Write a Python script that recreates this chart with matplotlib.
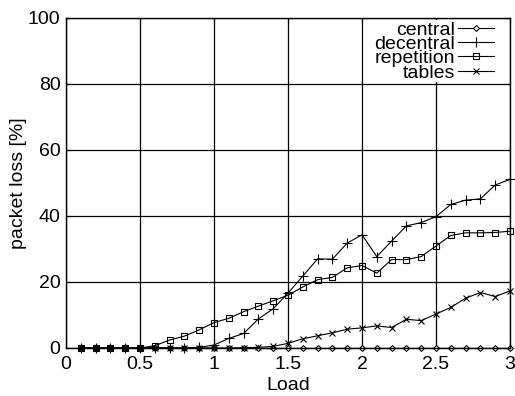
import matplotlib
matplotlib.use("Agg")
import matplotlib.pyplot as plt

plt.rcParams['font.family'] = ['Liberation Sans', 'DejaVu Sans']

# load values on the x axis
load = [0.1, 0.2, 0.3, 0.4, 0.5, 0.6, 0.7, 0.8, 0.9, 1.0,
        1.1, 1.2, 1.3, 1.4, 1.5, 1.6, 1.7, 1.8, 1.9, 2.0,
        2.1, 2.2, 2.3, 2.4, 2.5, 2.6, 2.7, 2.8, 2.9, 3.0]

# packet loss [%] per strategy
central = [0, 0, 0, 0, 0, 0, 0, 0, 0, 0,
           0, 0, 0, 0, 0, 0, 0, 0, 0, 0,
           0, 0, 0, 0, 0, 0, 0, 0, 0, 0]
decentral = [0, 0, 0, 0, 0, 0.1, 0, 0, 0.2, 0.9,
             2.9, 4.4, 8.8, 11.9, 16.6, 21.8, 27.0, 26.9, 31.8, 34.3,
             27.7, 32.4, 37.0, 38.0, 39.8, 43.5, 44.8, 45.2, 49.4, 51.1]
repetition = [0, 0, 0, 0, 0, 0.7, 2.4, 3.6, 5.5, 7.7,
              9.0, 11.0, 12.7, 14.3, 16.0, 18.5, 20.7, 21.4, 24.3, 25.0,
              22.7, 26.8, 26.8, 27.7, 30.9, 34.1, 34.9, 34.9, 35.0, 35.4]
tables = [0, 0, 0, 0, 0, 0, 0, 0, 0, 0,
          0, 0.1, 0.2, 0.5, 1.4, 2.8, 3.7, 4.6, 5.7, 6.1,
          6.7, 6.2, 8.7, 8.3, 10.3, 12.3, 15.1, 16.8, 15.6, 17.3]

x_ticks = [0, 0.5, 1, 1.5, 2, 2.5, 3]
x_labels = ['0', '0.5', '1', '1.5', '2', '2.5', '3']
y_ticks = [0, 20, 40, 60, 80, 100]

fig = plt.figure(figsize=(5.15, 3.96), dpi=100)
ax = fig.add_axes([66 / 515, 1 - 348 / 396, 444 / 515, 330 / 396])

lw = 0.8
ax.plot(load, central, color='black', lw=lw, marker='D', ms=3,
        mfc='white', mec='black', mew=0.8, label='central', clip_on=False)
ax.plot(load, decentral, color='black', lw=lw, marker='+', ms=7,
        mew=0.8, label='decentral', clip_on=False)
ax.plot(load, repetition, color='black', lw=lw, marker='s', ms=4.5,
        mfc='none', mec='black', mew=0.8, label='repetition', clip_on=False)
ax.plot(load, tables, color='black', lw=lw, marker='x', ms=5,
        mew=0.8, label='tables', clip_on=False)

ax.set_xlim(0, 3)
ax.set_ylim(0, 100)
ax.set_xticks(x_ticks)
ax.set_xticklabels(x_labels)
ax.set_yticks(y_ticks)
ax.grid(True, color='black', lw=0.9)
ax.set_axisbelow(True)
ax.tick_params(direction='in', labelsize=14, top=True, right=True)
ax.tick_params(axis='x', pad=6)
ax.tick_params(axis='y', pad=4)
for s in ax.spines.values():
    s.set_linewidth(1.0)

ax.set_xlabel('Load', fontsize=14, labelpad=3)
ax.set_ylabel('packet loss [%]', fontsize=14, labelpad=0.5)

leg = ax.legend(loc='upper right', bbox_to_anchor=(1 - 15.5 / 444, 1 - 2 / 330),
                fontsize=14, markerfirst=False,
                frameon=True, fancybox=False, edgecolor='none',
                framealpha=1, labelspacing=-0.17, handlelength=1.85,
                handletextpad=0.15, borderpad=0.05, borderaxespad=0,
                numpoints=1)
for t in leg.get_texts():
    t.set_ha('right')
leg._legend_box.align = 'right'

fig.savefig('out.png', dpi=100)
